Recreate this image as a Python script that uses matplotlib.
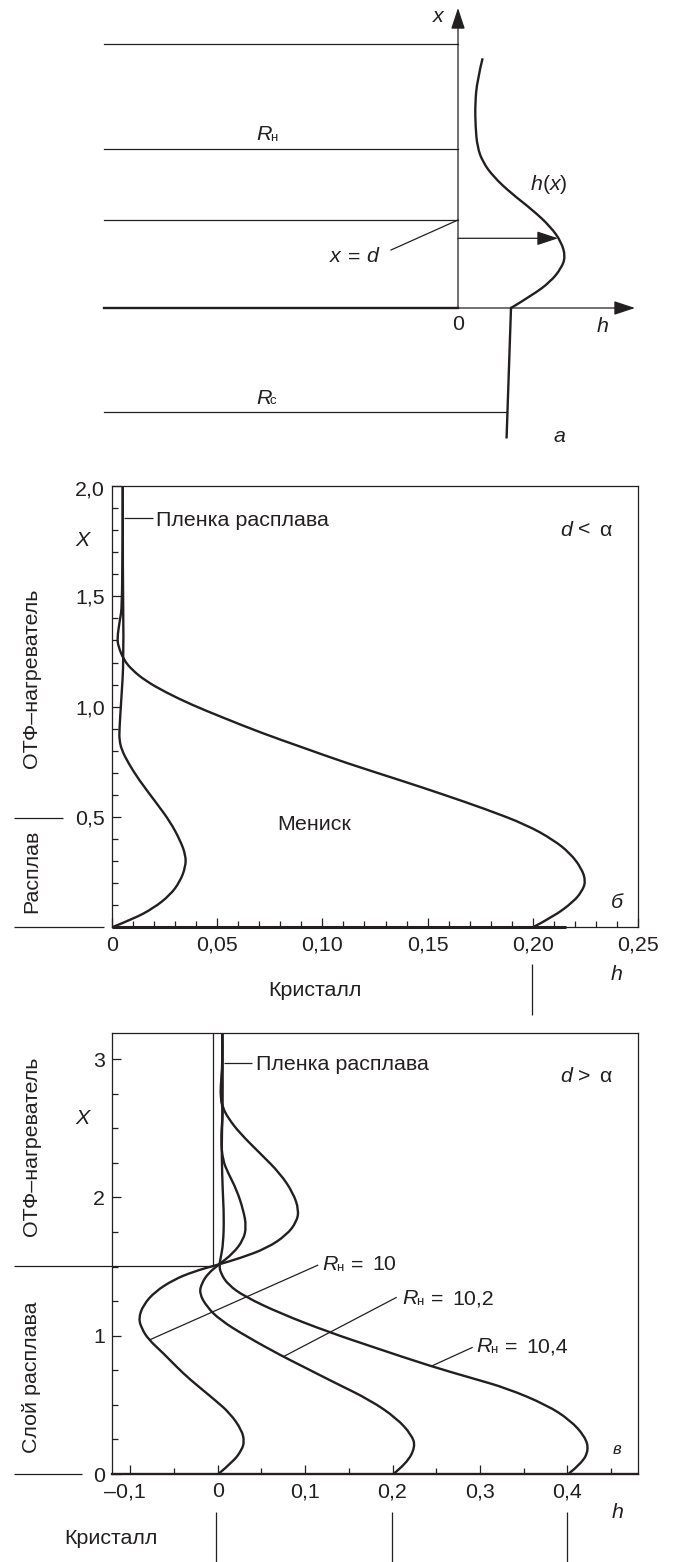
import matplotlib
matplotlib.use("Agg")
import matplotlib.pyplot as plt
from matplotlib.path import Path
from matplotlib.patches import PathPatch
from matplotlib.transforms import ScaledTranslation

plt.rcParams['font.family'] = ['Liberation Sans', 'DejaVu Sans']

W, H = 674, 1562
INK = '#231f20'
FS = 15.4

# panel a, units are pixels from the origin of the sketch
A_H = [53, 74.6, 92.5, 103.2, 107.5, 103.2, 92.5, 74.6, 53.2, 35.4, 24.6, 19.3, 17.5, 17.1, 19.3, 24.6]
A_X = [0, 13, 26.3, 39.7, 51.3, 66.3, 81.3, 98, 114.7, 131.3, 146.3, 161.3, 181.3, 204.7, 228, 249.7]
A_CRYSTAL_H = [53, 48.6]
A_CRYSTAL_X = [0, -129.3]
A_LEVELS = [264, 159, 88]
A_RC_LEVEL = -104
A_LEFT = -354

# panel b
B1_H = [0, .0101, .0196, .0276, .0323, .035, .035, .0323, .0276, .0212, .0126, .0078, .0046, .0035,
        .0035, .0044, .0056, .0051, .0051]
B1_X = [0, .038, .086, .146, .207, .275, .328, .396, .479, .562, .671, .744, .804, .849,
        .895, 1.031, 1.212, 1.6, 2.0]
B2_H = [.2, .2098, .2193, .2232, .2252, .2232, .2177, .2098, .1971, .1781, .1559, .1378, .1109, .0903,
        .0713, .0523, .038, .0253, .0158, .0095, .0056, .003, .0025, .0035, .0051, .0051]
B2_X = [0, .048, .116, .161, .207, .267, .336, .396, .464, .534, .607, .664, .746, .816,
        .88, .952, 1.008, 1.066, 1.118, 1.167, 1.212, 1.273, 1.31, 1.379, 1.47, 2.0]
B_XTICKS = [0, .05, .10, .15, .20, .25]
B_XLABELS = ['0', '0,05', '0,10', '0,15', '0,20', '0,25']
B_YTICKS = [0.5, 1.0, 1.5, 2.0]
B_YLABELS = ['0,5', '1,0', '1,5', '2,0']
B_XMINOR = [i / 100 for i in range(26)]
B_YMINOR = [i / 10 for i in range(21)]

# panel v
V10_H = [.0007, .0178, .0275, .0305, .0275, .0141, -.0031, -.0317, -.0469, -.0622, -.0794, -.087, -.0905,
         -.0851, -.0717, -.0508, -.0279, -.0011, .0255, .0561, .0789, .0904, .0928, .0865, .0713, .0484,
         .0255, .0121, .0057, .0034, .0034, .0057, .0053]
V10_X = [0, .089, .174, .234, .318, .439, .535, .683, .774, .873, .974, 1.053, 1.126,
         1.222, 1.318, 1.403, 1.463, 1.511, 1.56, 1.632, 1.728, 1.824, 1.909, 2.03, 2.174, 2.319,
         2.463, 2.572, 2.65, 2.727, 2.80, 2.97, 3.186]
V102_H = [.2009, .2162, .2262, .222, .2048, .1743, .1323, .0942, .0751, .0332, .0026, -.0126, -.021, -.0183,
          -.0108, .0007, .0178, .0293, .0328, .0293, .0217, .0121, .0057, .0038, .0053, .0057, .0034,
          .0057, .0053]
V102_X = [0, .077, .197, .282, .403, .535, .665, .788, .848, .993, 1.114, 1.21, 1.307, 1.379,
          1.451, 1.511, 1.596, 1.692, 1.788, 1.909, 2.054, 2.174, 2.27, 2.415, 2.56, 2.65, 2.727,
          2.97, 3.186]
V104_H = [.4011, .4165, .4245, .4203, .4031, .3764, .3307, .2925, .2429, .1819, .1265, .0713, .0312, .0121,
          .0034, .0018, .0034, .0064, .0072, .0057, .0046, .0049, .0057, .0057, .0053]
V104_X = [0, .077, .174, .27, .39, .499, .62, .69, .781, .909, 1.027, 1.162, 1.282, 1.367,
          1.451, 1.511, 1.56, 1.668, 1.861, 2.054, 2.294, 2.487, 2.65, 2.97, 3.186]
V_XTICKS = [-.1, 0, .1, .2, .3, .4]
V_XLABELS = ['–0,1', '0', '0,1', '0,2', '0,3', '0,4']
V_XMINOR = [-.1, -.05, 0, .05, .1, .15, .2, .25, .3, .35, .4, .45]
V_YTICKS = [0, 1, 2, 3]
V_YLABELS = ['0', '1', '2', '3']
V_YMINOR = [i / 4 for i in range(13)]


def px_axes(left, top, right, bottom):
    return fig.add_axes([left / W, 1 - bottom / H, (right - left) / W, (bottom - top) / H])


def smooth_curve(ax, xs, ys, lw=1.7):
    # quadratic bezier through the midpoints, the read points act as control points
    pts = list(zip(xs, ys))
    verts = [pts[0]]
    codes = [Path.MOVETO]
    for i in range(1, len(pts) - 1):
        end = pts[-1] if i == len(pts) - 2 else ((pts[i][0] + pts[i + 1][0]) / 2, (pts[i][1] + pts[i + 1][1]) / 2)
        verts += [pts[i], end]
        codes += [Path.CURVE3, Path.CURVE3]
    ax.add_patch(PathPatch(Path(verts, codes), fill=False, ec=INK, lw=lw, capstyle='butt', joinstyle='round'))


def style_axes(ax):
    for s in ax.spines.values():
        s.set_linewidth(0.9)
        s.set_color(INK)
    ax.tick_params(which='major', direction='in', length=6.5, width=0.9, color=INK, labelcolor=INK,
                   labelsize=FS, pad=5)
    ax.tick_params(which='minor', direction='in', length=4.3, width=0.9, color=INK)
    ax.tick_params(axis='x', which='major', pad=6)


def nudge(tick_label, dx, dy):
    tick_label.set_transform(tick_label.get_transform() + ScaledTranslation(dx / 100, dy / 100, fig.dpi_scale_trans))


def label(px, py, s, **kw):
    kw.setdefault('ha', 'center')
    kw.setdefault('va', 'center')
    kw.setdefault('fontsize', FS)
    kw.setdefault('color', INK)
    ov.text(px, py, s, **kw)


def rule(xs, ys, lw=0.9):
    ov.plot(xs, ys, color=INK, lw=lw, solid_capstyle='butt')


def r_label(px, py, sub, tail=''):
    label(px, py, 'R', ha='left', style='italic')
    label(px + 14, py + 3, sub, ha='left', fontsize=9.5)
    if tail:
        label(px + 29, py, '=', ha='left')
        label(px + 50, py, tail, ha='left')


fig = plt.figure(figsize=(W / 100, H / 100), dpi=100)

# panel a
ax_a = px_axes(0, 0, W, H)
ax_a.set_xlim(-458, W - 458)
ax_a.set_ylim(308 - H, 308)
ax_a.axis('off')
for lev in A_LEVELS:
    ax_a.plot([A_LEFT, 0], [lev, lev], color=INK, lw=0.9)
ax_a.plot([A_LEFT, A_CRYSTAL_H[1]], [A_RC_LEVEL, A_RC_LEVEL], color=INK, lw=0.9)
ax_a.plot([A_LEFT, 0], [0, 0], color=INK, lw=1.7)
ax_a.plot(A_CRYSTAL_H, A_CRYSTAL_X, color=INK, lw=1.7)
smooth_curve(ax_a, A_H, A_X)
ax_a.plot([0, -67], [88, 58], color=INK, lw=0.9)
head = dict(arrowstyle='-|>,head_length=1.3,head_width=0.43', shrinkA=0, shrinkB=0, mutation_scale=10,
            color=INK, lw=0.9)
ax_a.annotate('', xy=(0, 300), xytext=(0, 0), arrowprops=head)
ax_a.annotate('', xy=(177, 0), xytext=(0, 0), arrowprops=head)
ax_a.annotate('', xy=(100, 69.7), xytext=(0, 69.7), arrowprops=head)

# panel b
ax_b = px_axes(112, 486, 638, 927.3)
ax_b.set_xlim(0, 0.25)
ax_b.set_ylim(0, 2.0)
style_axes(ax_b)
ax_b.set_xticks(B_XTICKS, B_XLABELS)
ax_b.set_yticks(B_YTICKS, B_YLABELS)
ax_b.set_xticks(B_XMINOR, minor=True)
ax_b.set_yticks(B_YMINOR, minor=True)
nudge(ax_b.get_yticklabels()[-1], 0, -2)
ax_b.plot([0, 0.216], [0, 0], color=INK, lw=2.2, clip_on=False, solid_capstyle='butt')
smooth_curve(ax_b, B1_H, B1_X)
smooth_curve(ax_b, B2_H, B2_X)

# panel v
ax_v = px_axes(112, 1033.3, 637.7, 1474)
ax_v.set_xlim(-.1209, .4805)
ax_v.set_ylim(0, 3.186)
style_axes(ax_v)
ax_v.spines['bottom'].set_linewidth(1.7)
ax_v.set_xticks(V_XTICKS, V_XLABELS)
ax_v.set_yticks(V_YTICKS, V_YLABELS)
ax_v.set_xticks(V_XMINOR, minor=True)
ax_v.set_yticks(V_YMINOR, minor=True)
nudge(ax_v.get_xticklabels()[0], -5, 0)
ax_v.plot([-.0054, -.0054], [1.504, 3.186], color=INK, lw=0.9)
smooth_curve(ax_v, V10_H, V10_X)
smooth_curve(ax_v, V102_H, V102_X)
smooth_curve(ax_v, V104_H, V104_X)

# annotations in picture pixels
ov = px_axes(0, 0, W, H)
ov.set_xlim(0, W)
ov.set_ylim(H, 0)
ov.axis('off')
ov.patch.set_alpha(0)

label(438, 16, 'x', style='italic')
r_label(256, 135, 'н')
r_label(256, 398, 'с')
label(531, 185, 'h', ha='left', style='italic')
label(543, 185, '(', ha='left')
label(550, 185, 'x', ha='left', style='italic')
label(560, 185, ')', ha='left')
label(335, 257, 'x', style='italic')
label(354, 257, '=')
label(372, 257, 'd', style='italic')
label(458, 324, '0')
label(603, 326, 'h', style='italic')
label(559, 437, 'а', style='italic')

rule([124, 153], [517.7, 517.7])
label(156, 520, 'Пленка расплава', ha='left')
label(83, 541, 'X', style='italic')
label(31.5, 678, 'ОТФ–нагреватель', rotation=90)
label(31.5, 871, 'Расплав', rotation=90)
rule([14, 63], [818, 818])
rule([14, 104], [927.3, 927.3])
label(314, 824, 'Мениск')
label(315, 991, 'Кристалл')
rule([531.7, 531.7], [964, 1015])
label(617, 974, 'h', style='italic')
label(617, 903, 'б', style='italic')
label(560, 530, 'd', ha='left', style='italic')
label(584, 530, '<')
label(605, 530, 'α')

rule([224, 252], [1063.3, 1063.3])
label(256, 1065, 'Пленка расплава', ha='left')
label(83, 1119, 'X', style='italic')
label(31.5, 1146, 'ОТФ–нагреватель', rotation=90)
label(31.5, 1377, 'Слой расплава', rotation=90)
rule([14, 213], [1266, 1266])
rule([14, 82], [1473.7, 1473.7])
rule([149.3, 318.3], [1340, 1265])
rule([283.3, 396.7], [1356.7, 1297.3])
rule([431.7, 472.7], [1366, 1347.3])
r_label(322, 1265, 'н', '10')
r_label(402, 1299, 'н', '10,2')
r_label(476, 1347, 'н', '10,4')
label(111, 1538, 'Кристалл')
for vx in [216, 392.3, 567.3]:
    rule([vx, vx], [1511.7, 1561.7])
label(618, 1513, 'h', style='italic')
label(617, 1450, 'в', style='italic', fontsize=12)
label(560, 1077, 'd', ha='left', style='italic')
label(584, 1077, '>')
label(605, 1077, 'α')

fig.savefig('out.png', dpi=100)
plt.close(fig)
